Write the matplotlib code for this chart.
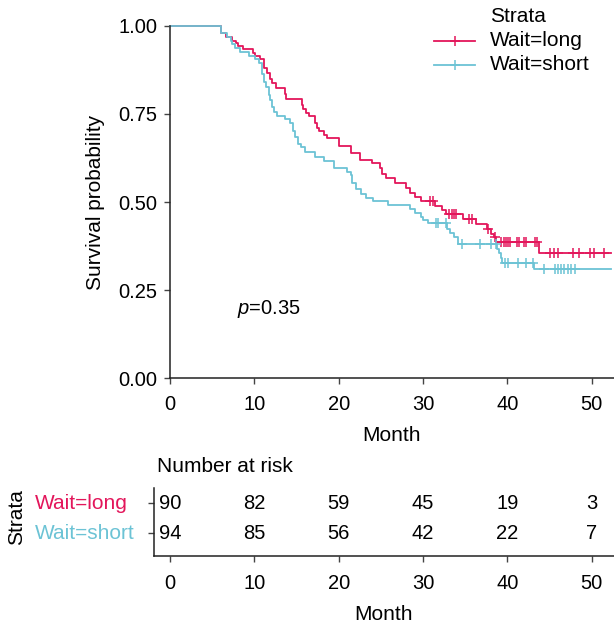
import matplotlib
matplotlib.use("Agg")
import matplotlib.pyplot as plt
from matplotlib.lines import Line2D

plt.rcParams['font.family'] = ['Liberation Sans', 'DejaVu Sans']
plt.rcParams['mathtext.fontset'] = 'custom'
plt.rcParams['mathtext.it'] = 'Liberation Sans:italic'
plt.rcParams['mathtext.rm'] = 'Liberation Sans'

# Kaplan-Meier steps (time in months, survival after the drop)
long_t = [0, 6.0, 6.6, 7.4, 7.8, 8.1, 8.7, 9.8, 10.1, 10.7, 11.1, 11.2, 11.5, 11.8,
          12.1, 12.6, 13.6, 13.8, 15.6, 15.8, 16.1, 16.5, 17.2, 17.4, 17.7, 18.2,
          18.6, 20.0, 21.4, 22.5, 24.0, 24.9, 25.1, 25.6, 26.7, 28.0, 28.5, 29.1,
          29.7, 31.4, 32.3, 32.7, 34.7, 36.3, 37.6, 38.0, 38.4, 38.6, 43.8]
long_s = [1.0, 0.978, 0.967, 0.957, 0.950, 0.942, 0.933, 0.922, 0.914, 0.905, 0.893,
          0.879, 0.865, 0.848, 0.837, 0.822, 0.805, 0.791, 0.775, 0.763, 0.751, 0.744,
          0.723, 0.709, 0.700, 0.690, 0.681, 0.659, 0.638, 0.620, 0.610, 0.596, 0.580,
          0.568, 0.555, 0.539, 0.525, 0.515, 0.504, 0.489, 0.477, 0.466, 0.451, 0.438,
          0.423, 0.410, 0.400, 0.387, 0.355]
long_cens = [30.8, 31.2, 33.1, 33.4, 33.7, 33.9, 35.5, 35.8, 37.7, 38.5, 39.3, 39.6,
             39.8, 40.1, 40.3, 41.1, 41.4, 42.0, 42.2, 43.3, 43.5, 45.0, 45.5, 46.0,
             47.8, 48.5, 49.8, 50.3, 51.4]
long_end = 52.3

short_t = [0, 6.0, 6.8, 7.2, 7.4, 7.7, 8.3, 9.4, 10.1, 10.6, 10.9, 11.1, 11.4, 11.7,
           11.9, 12.1, 12.3, 12.7, 13.6, 14.2, 14.6, 14.8, 15.2, 15.5, 16.0, 17.2,
           18.3, 19.4, 21.0, 21.4, 21.6, 22.0, 22.7, 23.2, 24.1, 25.8, 28.5, 29.0,
           29.7, 30.0, 30.6, 32.8, 33.2, 33.7, 34.2, 38.8, 39.0, 39.2, 39.4, 43.1]
short_s = [1.0, 0.979, 0.968, 0.957, 0.947, 0.936, 0.926, 0.915, 0.905, 0.894, 0.862,
           0.840, 0.827, 0.803, 0.789, 0.770, 0.756, 0.744, 0.734, 0.725, 0.700, 0.685,
           0.664, 0.655, 0.643, 0.628, 0.617, 0.596, 0.586, 0.577, 0.555, 0.536, 0.522,
           0.512, 0.503, 0.491, 0.480, 0.470, 0.458, 0.450, 0.441, 0.424, 0.412, 0.400,
           0.382, 0.366, 0.355, 0.340, 0.328, 0.309]
short_cens = [31.5, 31.8, 32.7, 34.6, 36.7, 38.0, 38.6, 39.7, 40.1, 41.2, 42.2, 43.0,
              44.4, 45.7, 45.95, 46.3, 46.7, 47.2, 47.6, 48.0]
short_end = 52.3

risk_times = [0, 10, 20, 30, 40, 50]
risk_long = [90, 82, 59, 45, 19, 3]
risk_short = [94, 85, 56, 42, 22, 7]

red = "#E3165B"
blue = "#6CC3D5"
axcol = "#222222"
fs = 15

W, H = 614, 624
fig = plt.figure(figsize=(W / 100, H / 100), dpi=100)


def fx(px):
    return px / W


def fy(py):
    return 1 - py / H


def surv_at(ts, ss, t):
    v = ss[0]
    for a, b in zip(ts, ss):
        if a <= t:
            v = b
    return v


# ---- main KM plot
ax = fig.add_axes([fx(170), fy(378.3), fx(614) - fx(170), fy(25.7) - fy(378.3)])
for ts, ss, cens, end, col in [(long_t, long_s, long_cens, long_end, red),
                               (short_t, short_s, short_cens, short_end, blue)]:
    ax.step(ts + [end], ss + [ss[-1]], where='post', color=col, lw=1.3, clip_on=False)
    ax.plot(cens, [surv_at(ts, ss, c) for c in cens], ls='none', marker='+',
            ms=7, mew=1.1, color=col, clip_on=False)

ax.set_xlim(0, 52.64)
ax.set_ylim(0, 1)
ax.set_xticks(risk_times)
ax.set_yticks([0, 0.25, 0.5, 0.75, 1.0])
ax.set_yticklabels(["0.00", "0.25", "0.50", "0.75", "1.00"])
for s in ['top', 'right']:
    ax.spines[s].set_visible(False)
for s in ['left', 'bottom']:
    ax.spines[s].set_color(axcol)
    ax.spines[s].set_linewidth(1.1)
ax.tick_params(labelsize=fs - 0.5, length=4, width=1.0, color='#444444', pad=5)
ax.tick_params(axis='x', pad=8)
ax.set_xlabel("Month", fontsize=fs, labelpad=9)
ax.set_ylabel("Survival probability", fontsize=fs, labelpad=10)
ax.text(7.9, 0.197, r"$p$=0.35", fontsize=fs - 0.5, ha='left', va='center')

# ---- legend
fig.text(fx(490), fy(17), "Strata", fontsize=fs, ha='left', va='center')
for name, col, py in [("Wait=long", red, 41), ("Wait=short", blue, 65)]:
    fig.add_artist(Line2D([fx(434), fx(454.5), fx(475)], [fy(py)] * 3, color=col, lw=1.3,
                          marker='+', ms=7, mew=1.1, markevery=[1]))
    fig.text(fx(490), fy(py), name, fontsize=fs, ha='left', va='center')

# ---- risk table
ax2 = fig.add_axes([fx(154), fy(555.7), fx(614) - fx(154), fy(488) - fy(555.7)])
ax2.set_xlim(-1.9, 52.64)
ax2.set_ylim(0.25, 2.51)
for t, a, b in zip(risk_times, risk_long, risk_short):
    ax2.text(t, 2, str(a), fontsize=fs - 0.5, ha='center', va='center')
    ax2.text(t, 1, str(b), fontsize=fs - 0.5, ha='center', va='center')
ax2.set_xticks(risk_times)
ax2.set_yticks([2, 1])
ax2.set_yticklabels(["", ""])
for s in ['top', 'right']:
    ax2.spines[s].set_visible(False)
for s in ['left', 'bottom']:
    ax2.spines[s].set_color(axcol)
    ax2.spines[s].set_linewidth(1.1)
ax2.tick_params(labelsize=fs - 0.5, length=4, width=1.0, color='#444444', pad=5)
ax2.tick_params(axis='x', pad=9)
ax2.set_xlabel("Month", fontsize=fs, labelpad=9)
yt = ax2.get_yaxis_transform()
lab_x = (34.5 - 154) / (614 - 154)
ax2.text(lab_x, 2, "Wait=long", color=red, fontsize=fs, ha='left', va='center', transform=yt)
ax2.text(lab_x, 1, "Wait=short", color=blue, fontsize=fs, ha='left', va='center', transform=yt)
fig.text(fx(17), fy(516.7), "Strata", fontsize=fs, rotation=90, ha='center', va='center')
fig.text(fx(157), fy(466), "Number at risk", fontsize=fs, ha='left', va='center')

fig.savefig("out.png", dpi=100)
